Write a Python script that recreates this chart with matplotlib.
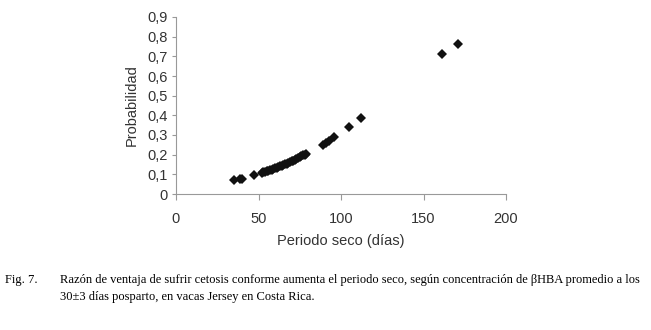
import matplotlib.pyplot as plt

# periodo seco (dias) vs probabilidad
dias = [35, 39, 40, 47,
        52, 53, 54, 55, 56, 57, 58, 59, 60, 61, 62, 63, 64, 65,
        66, 67, 68, 69, 70, 71, 72, 73, 74, 75, 76, 77, 78, 79,
        89, 91, 93, 96, 105, 112, 161, 171]
prob = [0.070, 0.075, 0.078, 0.095,
        0.107, 0.110, 0.113, 0.115, 0.118, 0.121, 0.124, 0.127, 0.130, 0.134,
        0.137, 0.140, 0.144, 0.147, 0.151, 0.155, 0.158, 0.162, 0.166, 0.170,
        0.174, 0.178, 0.183, 0.187, 0.191, 0.196, 0.200, 0.205,
        0.250, 0.260, 0.270, 0.290, 0.340, 0.385, 0.710, 0.765]
xticks = [0, 50, 100, 150, 200]
yticks = [0, 0.1, 0.2, 0.3, 0.4, 0.5, 0.6, 0.7, 0.8, 0.9]

plt.rcParams['font.family'] = ['Liberation Sans', 'DejaVu Sans']

fig = plt.figure(figsize=(6.51, 3.30), dpi=100)
ax = fig.add_axes([176/651, 1-194/330, 330/651, 177/330])

ax.plot(dias, prob, 'D', color='#111111', markersize=5, markeredgewidth=0)

ax.set_xlim(0, 200)
ax.set_ylim(0, 0.9)
ax.set_xticks(xticks)
ax.set_xticklabels([str(t) for t in xticks])
ax.set_yticks(yticks)
ax.set_yticklabels([('%g' % t).replace('.', ',') for t in yticks])
for s in ['top', 'right']:
    ax.spines[s].set_visible(False)
for s in ['left', 'bottom']:
    ax.spines[s].set_color('#999999')
    ax.spines[s].set_linewidth(0.8)
ax.tick_params(axis='x', direction='out', length=4, color='#999999',
               labelsize=10.5, labelcolor='#333333', pad=9)
ax.tick_params(axis='y', direction='out', length=3, color='#999999',
               labelsize=10.5, labelcolor='#333333', pad=3)

ax.set_xlabel('Periodo seco (días)', fontsize=10.5, color='#333333', labelpad=6)
ax.set_ylabel('Probabilidad', fontsize=10.5, color='#333333', labelpad=6)

serif = ['Liberation Serif', 'DejaVu Serif']
fig.text(5/651, 1-280/330, 'Fig. 7.', family=serif, fontsize=9, va='center')
fig.text(60/651, 1-280/330,
         'Razón de ventaja de sufrir cetosis conforme aumenta el periodo seco, '
         'según concentración de βHBA promedio a los',
         family=serif, fontsize=9, va='center')
fig.text(60/651, 1-297/330, '30±3 días posparto, en vacas Jersey en Costa Rica.',
         family=serif, fontsize=9, va='center')

fig.savefig('out.png', dpi=100)
